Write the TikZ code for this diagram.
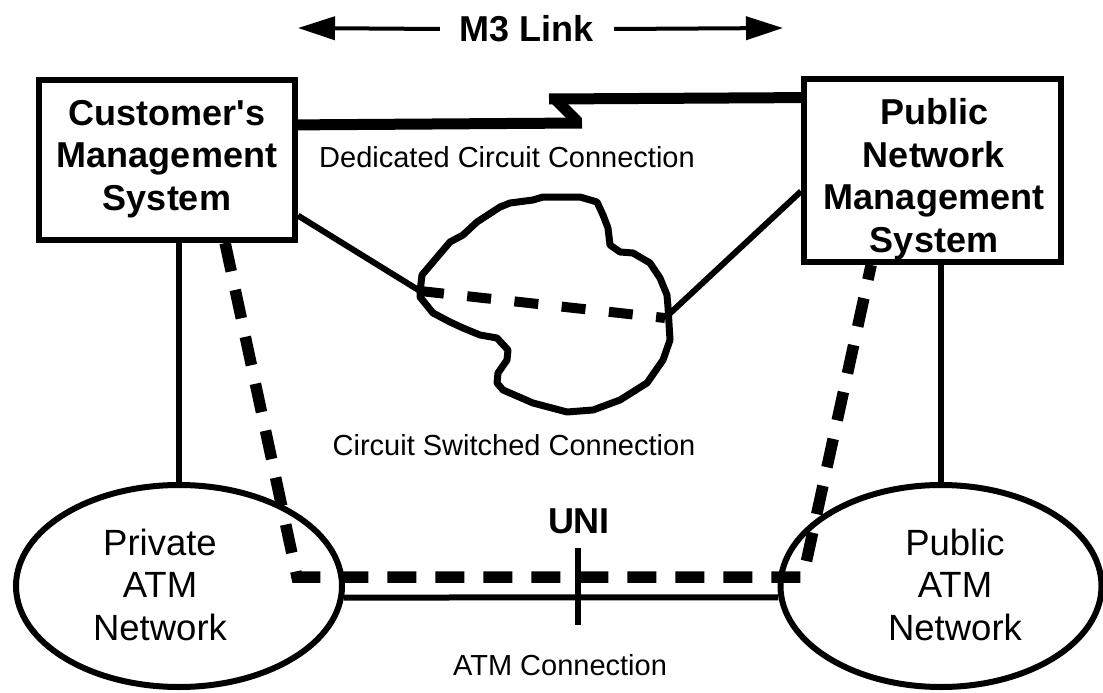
\documentclass[tikz,border=0pt]{standalone}
\usepackage{fontspec}
\setmainfont{Liberation Sans}
\usetikzlibrary{arrows.meta,shapes.geometric}
\begin{document}
\begin{tikzpicture}[x=1pt,y=-1pt,
  box/.style={draw,line width=6pt,rectangle,inner sep=0pt},
  net/.style={draw,ellipse,line width=6pt,inner sep=0pt},
  boldtxt/.style={font=\fontsize{36}{42.4}\selectfont\bfseries,align=center,inner sep=0pt,anchor=base},
  nettxt/.style={font=\fontsize{36.5}{42.5}\selectfont,align=center,inner sep=0pt,anchor=base},
  caption/.style={font=\fontsize{29}{34}\selectfont,inner sep=0pt,anchor=base},
  link/.style={line width=6pt},
  dedic/.style={line width=11pt},
  cloudline/.style={line width=7pt,line join=round},
  clouddash/.style={line width=10pt,dash pattern=on 24pt off 23.5pt},
  bigdash/.style={line width=11.5pt,dash pattern=on 29pt off 19pt},
  m3arrow/.style={line width=4pt,-{Triangle[length=37pt,width=23pt]}}
]
\useasboundingbox (0,0) rectangle (1103,693);

% boxes
\node[box,minimum width=256pt,minimum height=160pt] (cms) at (167,160) {};
\node[box,minimum width=257pt,minimum height=183pt] (pnms) at (932.5,170.5) {};
\node[boldtxt] (cmsT) at (167,210) {Customer\textquotesingle s\\Management\\System};
\node[boldtxt] (pnmsT) at (934,252) {Public\\Network\\Management\\System};

% ellipses
\node[net,minimum width=326pt,minimum height=202pt] (priv) at (179,586) {};
\node[net,minimum width=321pt,minimum height=202pt] (pub) at (941,586) {};
\node[nettxt] (privT) at (160,640) {Private\\ATM\\Network};
\node[nettxt] (pubT) at (955,640) {Public\\ATM\\Network};

% M3 link
\node[boldtxt,anchor=center,inner xsep=20pt] (m3) at (527,29) {M3 Link};
\coordinate (aL) at (298,28);
\coordinate (aR) at (783,28);
\draw[m3arrow] (m3.west) -- (aL);
\draw[m3arrow] (m3.east) -- (aR);

% dedicated circuit
\coordinate (z1) at (582,123);
\coordinate (z2) at (577,121);
\coordinate (z3) at (556,100);
\coordinate (z4) at (549,99);
\draw[dedic] (cms.15.8) -- (z1);
\draw[dedic] (z2) -- (z3);
\draw[dedic] (z4) -- (pnms.151.5);
\node[caption] (ded) at (507,167) {Dedicated Circuit Connection};

% cloud
\draw[cloudline] (420,292) -- (422,275) -- (433,262) -- (450,242) -- (463,235) -- (477,222) -- (500,207) -- (510,203) -- (533,200) -- (543,197) -- (580,197) -- (597,202) -- (603,215) -- (608,228) -- (610,245) -- (620,252) -- (633,253) -- (650,263) -- (660,278) -- (667,295) -- (668,307) -- (670,340) -- (663,360) -- (647,383) -- (620,400) -- (593,410) -- (567,412) -- (533,403) -- (503,390) -- (497,383) -- (498,373) -- (507,360) -- (508,350) -- (497,338) -- (480,335) -- (463,328) -- (450,322) -- (433,313) -- (420,297) -- cycle;
\coordinate (cl) at (420,291);
\coordinate (cr) at (665,318);
\draw[link] (cms.-23.9) -- (cl);
\draw[link] (pnms.189.7) -- (cr);
\draw[clouddash] (cl) -- (cr);
\node[caption] (csc) at (514,455) {Circuit Switched Connection};

% verticals
\draw[link] (priv.north |- cms.south) -- (priv.north);
\draw[link] (pub.north |- pnms.south) -- (pub.north);

% ATM connection
\draw[link] (priv.-4.8) -- (pub.184.8);
\coordinate (u1) at (578,548);
\coordinate (u2) at (578,625);
\draw[link] (u1) -- (u2);
\node[boldtxt] (uni) at (579,533) {UNI};
\node[caption] (atm) at (560,675) {ATM Connection};

% management path over ATM
\coordinate (d1) at (297,577);
\coordinate (d2) at (803,577);
\draw[bigdash] (cms.-55.1) -- (d1) -- (d2) -- (pnms.-123.5);
\end{tikzpicture}
\end{document}
